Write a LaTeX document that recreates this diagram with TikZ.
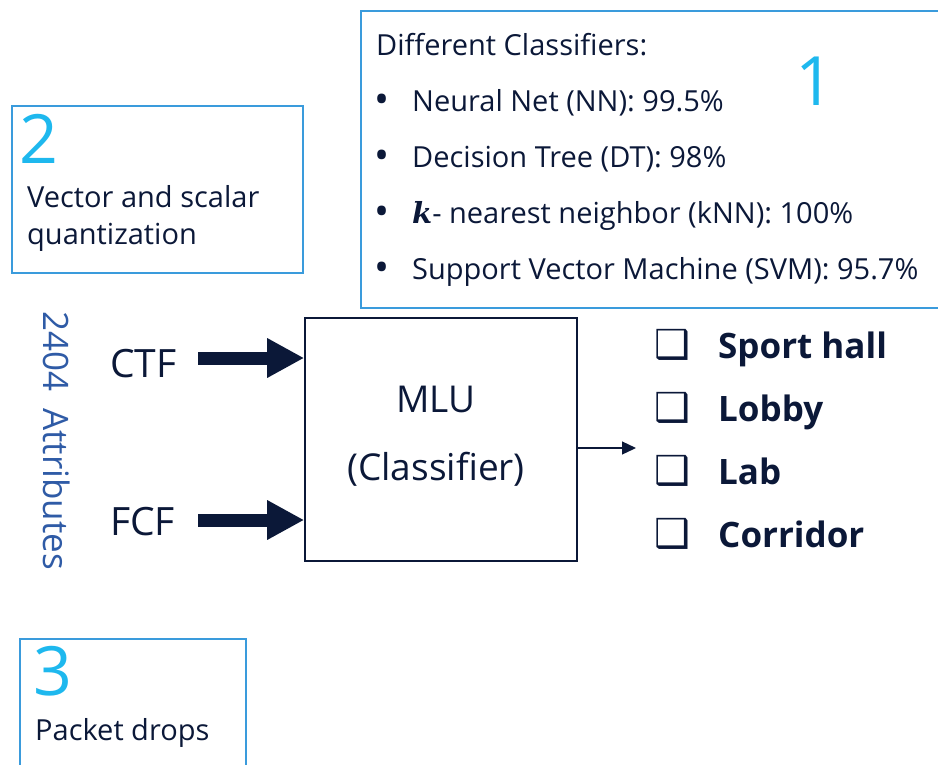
\documentclass[tikz,border=0pt]{standalone}
\usepackage{fontspec}
\setmainfont{Open Sans}
\newfontfamily\symfont{DejaVu Sans}
\newfontfamily\kfont{DejaVu Serif}
\usetikzlibrary{arrows.meta}
\definecolor{ink}{HTML}{0B1838}
\definecolor{frameblue}{HTML}{3A9BDC}
\definecolor{numcyan}{HTML}{1EB8EE}
\definecolor{attrblue}{HTML}{2F5BA6}
\newcommand{\fsz}[1]{\fontsize{#1}{#1}\selectfont}
\tikzset{
  panel/.style={draw=frameblue, line width=1.6pt, rectangle, inner sep=0pt, anchor=north west},
  txt/.style={anchor=base west, inner sep=0pt, text=ink, font=\fsz{29}},
  bigtxt/.style={anchor=base west, inner sep=0pt, text=ink, font=\fsz{39}},
  item/.style={anchor=base west, inner sep=0pt, text=ink, font=\fsz{35}\bfseries},
  tick/.style={anchor=base west, inner sep=0pt, text=ink, font=\symfont\fsz{40}},
  dot/.style={anchor=base, inner sep=0pt, text=ink, font=\fsz{40}},
  num/.style={anchor=base west, inner sep=0pt, text=numcyan, font=\fsz{68}},
  fat/.style={draw=ink, line width=13pt, -{Triangle[length=37pt,width=37pt]}},
  thin/.style={draw=ink, line width=1.3pt, -{Triangle[length=14pt,width=13pt]}},
}
\begin{document}
\begin{tikzpicture}[x=1pt,y=-1pt]
\useasboundingbox (0,0) rectangle (938,764);

% panel 1: classifier accuracies
\node[panel, minimum width=600pt, minimum height=297pt] (p1) at (360,10) {};
\node[txt] (p1head) at (376,55) {Different Classifiers:};
\node[dot] (b1) at (382,113) {•};
\node[dot] (b2) at (382,169) {•};
\node[dot] (b3) at (382,225) {•};
\node[dot] (b4) at (382,281) {•};
\node[txt] (c1) at (412,111) {Neural Net (NN): 99.5\%};
\node[txt] (c2) at (412,167) {Decision Tree (DT): 98\%};
\node[txt] (c3) at (412,223) {{\kfont\itshape\bfseries k}- nearest neighbor (kNN): 100\%};
\node[txt] (c4) at (412,279) {Support Vector Machine (SVM): 95.7\%};
\node[num, anchor=base] (n1) at (815,105) {1};

% panel 2: quantization
\node[panel, minimum width=291pt, minimum height=167pt] (p2) at (11,105) {};
\node[num] (n2) at (19,163) {2};
\node[txt] (q1) at (27,207) {Vector and scalar};
\node[txt] (q2) at (27,244) {quantization};

% panel 3: packet drops
\node[panel, minimum width=226pt, minimum height=160pt] (p3) at (19,638) {};
\node[num] (n3) at (33,695) {3};
\node[txt] (pd) at (35,740) {Packet drops};

% rotated attribute count
\node[anchor=base west, inner sep=0pt, rotate=-90, text=attrblue, font=\fsz{35}]
  (attr) at (43,311) {2404\hspace{17pt}Attributes};

% classifier block
\node[draw=ink, line width=1.6pt, rectangle, inner sep=0pt,
      minimum width=272pt, minimum height=243pt] (mlu) at (441,439.5) {};
\node[bigtxt, font=\fsz{37}, anchor=base] (m1) at (436,412) {MLU};
\node[bigtxt, font=\fsz{37}, anchor=base] (m2) at (436,480) {(Classifier)};

% inputs
\node[bigtxt] (ctf) at (110,377) {CTF};
\node[bigtxt] (fcf) at (110,535) {FCF};
\coordinate (ctfs) at (198,358);
\coordinate (fcfs) at (198,520);
\draw[fat] (ctfs) -- (ctfs -| mlu.west);
\draw[fat] (fcfs) -- (fcfs -| mlu.west);

% output
\coordinate (out) at (636,448);
\draw[thin] (mlu.east |- out) -- (out);

% class labels
\node[tick] (t1) at (654,358) {❑};
\node[tick] (t2) at (654,421) {❑};
\node[tick] (t3) at (654,484) {❑};
\node[tick] (t4) at (654,547) {❑};
\node[item] (l1) at (718,358) {Sport hall};
\node[item] (l2) at (718,421) {Lobby};
\node[item] (l3) at (718,484) {Lab};
\node[item] (l4) at (718,547) {Corridor};
\end{tikzpicture}
\end{document}
